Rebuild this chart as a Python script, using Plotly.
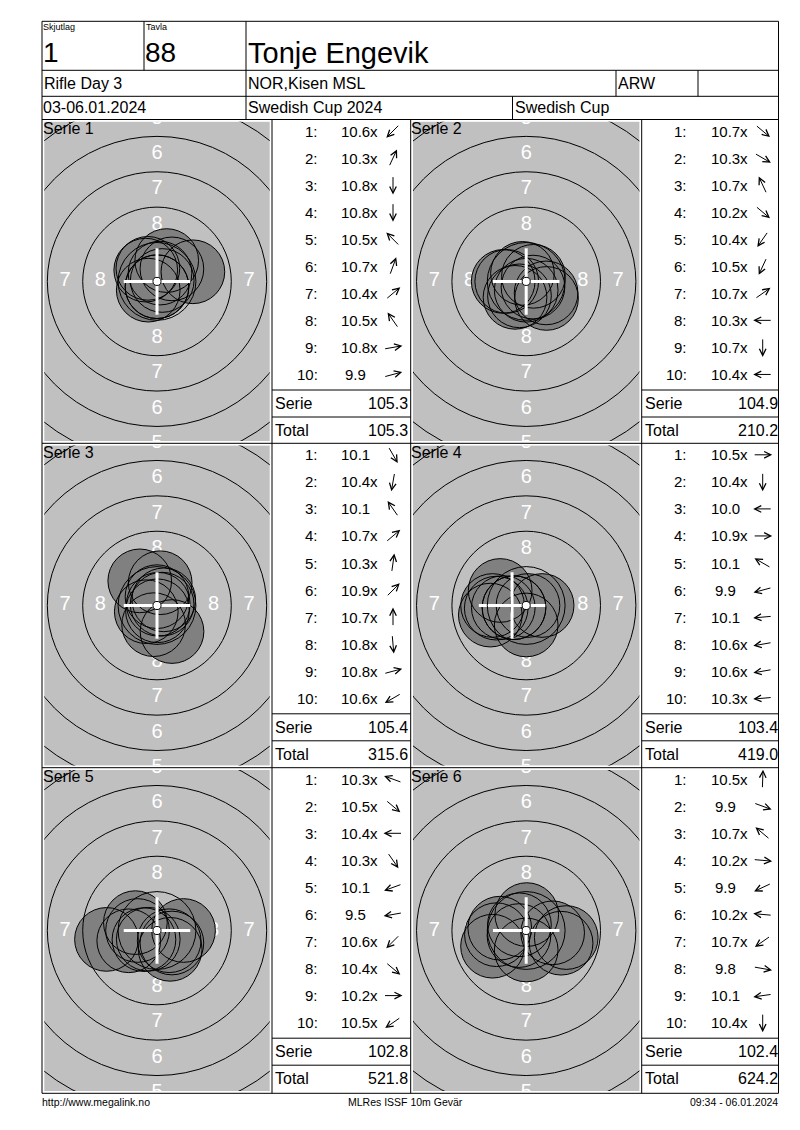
import math
import plotly.graph_objects as go

# ---- data read from the score card ----
SHOOTER = "Tonje Engevik"
RELAY = "1"
LANE = "88"
EVENT = "Rifle Day 3"
CLUB = "NOR,Kisen MSL"
CLASS = "ARW"
DATES = "03-06.01.2024"
COMPETITION = "Swedish Cup 2024"
CUP = "Swedish Cup"

SERIES = ["Serie 1", "Serie 2", "Serie 3", "Serie 4", "Serie 5", "Serie 6"]

SCORES_1 = [10.6, 10.3, 10.8, 10.8, 10.5, 10.7, 10.4, 10.5, 10.8, 9.9]
SCORES_2 = [10.7, 10.3, 10.7, 10.2, 10.4, 10.5, 10.7, 10.3, 10.7, 10.4]
SCORES_3 = [10.1, 10.4, 10.1, 10.7, 10.3, 10.9, 10.7, 10.8, 10.8, 10.6]
SCORES_4 = [10.5, 10.4, 10.0, 10.9, 10.1, 9.9, 10.1, 10.6, 10.6, 10.3]
SCORES_5 = [10.3, 10.5, 10.4, 10.3, 10.1, 9.5, 10.6, 10.4, 10.2, 10.5]
SCORES_6 = [10.5, 9.9, 10.7, 10.2, 9.9, 10.2, 10.7, 9.8, 10.1, 10.4]

# direction of each shot from the centre (degrees, counter-clockwise from 3 o'clock)
ANGLES_1 = [225, 65, 270, 270, 135, 70, 40, 125, 10, 15]
ANGLES_2 = [-40, -30, 115, -40, 235, 245, 35, 180, 270, 180]
ANGLES_3 = [-60, 260, 125, 40, 82, 45, 90, 275, 15, 210]
ANGLES_4 = [0, 270, 180, 0, 150, 195, 185, 190, 190, 185]
ANGLES_5 = [160, -40, 180, -55, 200, 190, 225, -40, 0, 215]
ANGLES_6 = [88, -20, 140, -5, 205, 175, 215, -10, 188, 270]

SERIE_SUMS = ["105.3", "104.9", "105.4", "103.4", "102.8", "102.4"]
TOTALS = ["105.3", "210.2", "315.6", "419.0", "521.8", "624.2"]

RINGS = [10, 9, 8, 7, 6, 5]
RING_RADIUS_MM = [0.25, 2.75, 5.25, 7.75, 10.25, 12.75]

FOOT_LEFT = "http://www.megalink.no"
FOOT_MID = "MLRes ISSF 10m Gevär"
FOOT_RIGHT = "09:34 - 06.01.2024"

# ---- geometry of the page (reference pixels, page has an 8px body margin) ----
PAGE_OFF = 8
W, H = 784, 1114
PX_PER_MM = 14.15
PELLET_MM = 4.5
CROSS_MM = 2.35
INSET = 2.3
ARROW_PX = 19
FONT = "Liberation Sans, Arial, sans-serif"

COL_X = [42, 272, 410.7, 641.7, 778.5]
ROW_Y = [119.5, 443.3, 767.7, 1093.3]
TOP_Y = 21.3
HEAD_Y = [70.3, 96.3]

all_scores = [SCORES_1, SCORES_2, SCORES_3, SCORES_4, SCORES_5, SCORES_6]
all_angles = [ANGLES_1, ANGLES_2, ANGLES_3, ANGLES_4, ANGLES_5, ANGLES_6]


def fx(x):
    return (x - PAGE_OFF) / W


def fy(y):
    return 1 - (y - PAGE_OFF) / H


annotations = []
shapes = []


def txt(x, y, s, size=16, xanchor="left", color="black"):
    annotations.append(dict(
        x=fx(x), y=fy(y), xref="paper", yref="paper", text=s, showarrow=False,
        xanchor=xanchor, yanchor="middle", borderpad=0, borderwidth=0,
        font=dict(family=FONT, size=size, color=color),
    ))


def arrow(cx, cy, deg):
    c, s = math.cos(math.radians(deg)), math.sin(math.radians(deg))
    annotations.append(dict(
        x=fx(cx + c * ARROW_PX / 2), y=fy(cy - s * ARROW_PX / 2), xref="paper", yref="paper",
        ax=-c * ARROW_PX, ay=s * ARROW_PX, text="", showarrow=True,
        arrowhead=5, arrowsize=1.3, arrowwidth=1, arrowcolor="black", standoff=0,
    ))


def hline(x0, x1, y):
    shapes.append(dict(type="line", xref="paper", yref="paper", x0=fx(x0), x1=fx(x1),
                       y0=fy(y), y1=fy(y), line=dict(color="black", width=1), layer="above"))


def vline(x, y0, y1):
    shapes.append(dict(type="line", xref="paper", yref="paper", x0=fx(x), x1=fx(x),
                       y0=fy(y0), y1=fy(y1), line=dict(color="black", width=1), layer="above"))


fig = go.Figure()
axes = {}

for k in range(6):
    row, col = divmod(k, 2)
    s = "" if k == 0 else str(k + 1)
    x0, x1 = COL_X[2 * col] + INSET, COL_X[2 * col + 1] - INSET
    y0, y1 = ROW_Y[row] + INSET, ROW_Y[row + 1] - INSET
    hx = (x1 - x0) / 2 / PX_PER_MM
    hy = (y1 - y0) / 2 / PX_PER_MM
    hidden = dict(showgrid=False, zeroline=False, showticklabels=False, ticks="",
                  showline=False, fixedrange=True)
    axes["xaxis" + s] = dict(domain=[fx(x0), fx(x1)], range=[-hx, hx], anchor="y" + s, **hidden)
    axes["yaxis" + s] = dict(domain=[fy(y1), fy(y0)], range=[-hy, hy], anchor="x" + s, **hidden)
    xa, ya = "x" + s, "y" + s

    # ring numbers (only the ones that fall inside the panel)
    lx, ly, lt = [], [], []
    for i in range(2, len(RINGS)):
        m = (RING_RADIUS_MM[i] + RING_RADIUS_MM[i - 1]) / 2
        for ux, uy in ((0, 1), (0, -1), (-1, 0), (1, 0)):
            if ux and m > hx - 0.5:
                continue
            lx.append(ux * m)
            ly.append(uy * m)
            lt.append(str(RINGS[i]))
    fig.add_trace(go.Scatter(x=lx, y=ly, text=lt, mode="text", xaxis=xa, yaxis=ya,
                             textfont=dict(family=FONT, size=20, color="white"),
                             hoverinfo="skip", cliponaxis=True))

    # shots: fills first, then every outline on top
    scores, angles = all_scores[k], all_angles[k]
    dist = [(11 - v) * 2.5 - 0.125 for v in scores]
    sx = [r * math.cos(math.radians(a)) for r, a in zip(dist, angles)]
    sy = [r * math.sin(math.radians(a)) for r, a in zip(dist, angles)]
    size = PELLET_MM * PX_PER_MM
    fig.add_trace(go.Scatter(x=sx, y=sy, mode="markers", xaxis=xa, yaxis=ya,
                             marker=dict(size=size, color="#808080", line=dict(width=0)),
                             hoverinfo="skip"))
    fig.add_trace(go.Scatter(x=sx, y=sy, mode="markers", xaxis=xa, yaxis=ya,
                             marker=dict(size=size, symbol="circle-open", color="black",
                                         line=dict(width=1, color="black")),
                             hoverinfo="skip"))

    # mean point of impact, shown in whole millimetres
    mx = math.trunc(sum(sx) / len(sx))
    my = math.trunc(sum(sy) / len(sy))
    fig.add_trace(go.Scatter(
        x=[mx - CROSS_MM, mx + CROSS_MM, None, mx, mx],
        y=[my, my, None, my - CROSS_MM, my + CROSS_MM],
        mode="lines", line=dict(color="white", width=3), xaxis=xa, yaxis=ya,
        hoverinfo="skip"))
    fig.add_trace(go.Scatter(x=[0], y=[0], mode="markers", xaxis=xa, yaxis=ya,
                             marker=dict(size=RING_RADIUS_MM[0] * 2 * PX_PER_MM + 1, color="white",
                                         line=dict(width=1, color="black")),
                             hoverinfo="skip"))

    for r in RING_RADIUS_MM[1:]:
        shapes.append(dict(type="circle", xref=xa, yref=ya, x0=-r, x1=r, y0=-r, y1=r,
                           line=dict(color="black", width=1), layer="above"))

    # label of the series
    txt(COL_X[2 * col] + 0.5, ROW_Y[row] + 9, SERIES[k], 16)

    # shot list
    lx0 = COL_X[2 * col + 1]
    ty = ROW_Y[row]
    for i, v in enumerate(scores):
        yy = ty + 11.5 + 27.05 * i
        txt(lx0 + 45.5, yy, f"{i + 1}:", 15, "right")
        txt(lx0 + 83.5, yy, f"{v:.1f}", 15, "center")
        if v >= 10.2:
            txt(lx0 + 98, yy, "x", 15, "left")
        arrow(lx0 + 121, yy, angles[i])
    hline(lx0, COL_X[2 * col + 2], ty + 270.5)
    hline(lx0, COL_X[2 * col + 2], ty + 297.5)
    txt(lx0 + 3, ty + 284, "Serie", 16)
    txt(lx0 + 136, ty + 284, SERIE_SUMS[k], 16, "right")
    txt(lx0 + 3, ty + 311, "Total", 16)
    txt(lx0 + 136, ty + 311, TOTALS[k], 16, "right")

# ---- table frame ----
shapes.append(dict(type="rect", xref="paper", yref="paper", x0=fx(COL_X[0]), x1=fx(COL_X[-1]),
                   y0=fy(ROW_Y[-1]), y1=fy(TOP_Y), line=dict(color="black", width=1), layer="above"))
for y in HEAD_Y + ROW_Y[:-1]:
    hline(COL_X[0], COL_X[-1], y)
vline(144, TOP_Y, HEAD_Y[0])
vline(246, TOP_Y, ROW_Y[0])
vline(616, HEAD_Y[0], HEAD_Y[1])
vline(698, HEAD_Y[0], HEAD_Y[1])
vline(512.5, HEAD_Y[1], ROW_Y[0])
for x in COL_X[1:-1]:
    vline(x, ROW_Y[0], ROW_Y[-1])

# ---- header texts ----
txt(43, 27, "Skjutlag", 9)
txt(42.5, 53, RELAY, 28)
txt(145.5, 27, "Tavla", 9)
txt(145, 53, LANE, 28)
txt(248, 53, SHOOTER, 29)
txt(43.5, 84, EVENT, 16)
txt(248, 84, CLUB, 16)
txt(617.5, 84, CLASS, 16)
txt(43, 107.5, DATES, 16)
txt(248, 107.5, COMPETITION, 16)
txt(515, 107.5, CUP, 16)

# ---- footer ----
txt(41.5, 1102.3, FOOT_LEFT, 10.5)
txt(405.6, 1102.3, FOOT_MID, 10.5, "center")
txt(778, 1102.3, FOOT_RIGHT, 10.5, "right")

fig.update_layout(
    width=W, height=H, margin=dict(l=0, r=0, t=0, b=0, pad=0),
    paper_bgcolor="white", plot_bgcolor="#c0c0c0",
    showlegend=False, annotations=annotations, shapes=shapes,
    **axes,
)

fig.write_html("out.html")
